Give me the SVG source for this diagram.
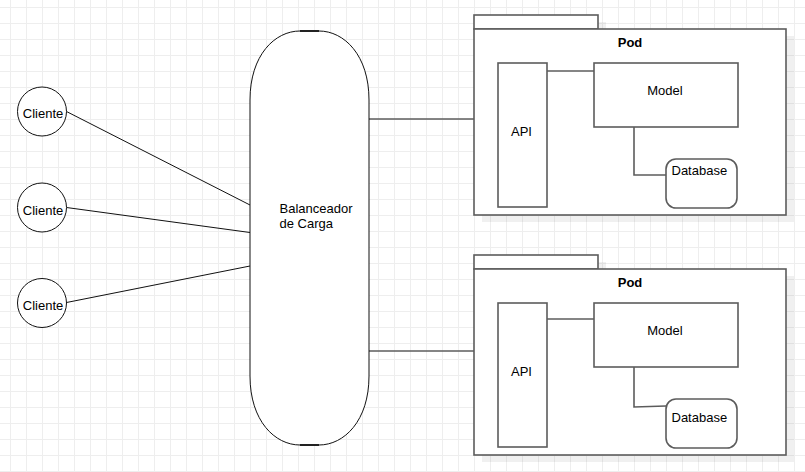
<svg xmlns="http://www.w3.org/2000/svg" width="805" height="472" viewBox="0 0 805 472">
<defs>
<pattern id="grid" x="0" y="0" width="16" height="16" patternUnits="userSpaceOnUse">
<path d="M10.5 0V16M0 7.5H16" stroke="#eeeeee" stroke-width="1" fill="none"/>
</pattern>
</defs>
<style>
text{font-family:"Liberation Sans",Arial,sans-serif;font-size:13px;fill:#000}
.box{fill:#fff;stroke:#5c5c5c;stroke-width:1.6}
.shadow{fill:#000;fill-opacity:0.06}
.conn{fill:none;stroke:#5c5c5c;stroke-width:1.6}
.cl{fill:none;stroke:#111;stroke-width:1}
.circ{fill:#fff;stroke:#111;stroke-width:1}
.mid{text-anchor:middle}
</style>
<rect width="805" height="472" fill="#fff"/>
<rect width="805" height="472" fill="url(#grid)"/>

<g id="connectors">
<line class="cl" x1="66.5" y1="111.5" x2="250" y2="205"/>
<line class="cl" x1="66.5" y1="207.5" x2="250" y2="232.5"/>
<line class="cl" x1="66.5" y1="302.5" x2="250" y2="266"/>
<line class="conn" x1="369" y1="119" x2="498" y2="119"/>
<line class="conn" x1="369" y1="351" x2="498" y2="351"/>
</g>

<g id="cliente1">
<circle class="circ" cx="42" cy="111.5" r="24.5"/>
<text class="mid" x="43" y="118">Cliente</text>
</g>
<g id="cliente2">
<circle class="circ" cx="42" cy="207.5" r="24.5"/>
<text class="mid" x="43" y="214.5">Cliente</text>
</g>
<g id="cliente3">
<circle class="circ" cx="42" cy="303" r="24.5"/>
<text class="mid" x="43" y="310">Cliente</text>
</g>

<g id="balanceador">
<path d="M250 100C250 55 275 31 300 31L319 31C344 31 369 55 369 100L369 376C369 421 344 445 319 445L300 445C275 445 250 421 250 376Z" fill="#fff" stroke="#111" stroke-width="1"/>
<path d="M300 31H319M300 445H319" stroke="#222" stroke-width="2.2"/>
<text x="279.5" y="213.2">Balanceador</text>
<text x="279.5" y="227.6">de Carga</text>
</g>

<g id="pod1">
<rect class="shadow" x="482" y="22" width="124" height="14"/>
<rect class="shadow" x="482" y="36" width="312" height="186"/>
<rect class="box" x="474" y="15" width="124" height="14"/>
<rect class="box" x="474" y="29" width="312" height="186"/>
<text class="mid" x="630" y="47" font-weight="bold">Pod</text>
<g id="api1">
<rect class="box" x="498" y="63" width="49" height="144"/>
<text class="mid" x="521.5" y="135.5">API</text>
</g>
<g id="model1">
<rect class="box" x="594" y="63" width="144" height="64"/>
<text class="mid" x="665" y="94.5">Model</text>
</g>
<g id="database1">
<rect class="box" x="666" y="159" width="71" height="49" rx="10" ry="10"/>
<text x="671.5" y="174.5">Database</text>
</g>
<g class="pod-connectors">
<polyline class="conn" points="547,71 594,71"/>
<polyline class="conn" points="634,127 634,175 666,175"/>
</g>
</g>

<g id="pod2">
<rect class="shadow" x="482" y="262" width="124" height="14"/>
<rect class="shadow" x="482" y="276" width="312" height="186"/>
<rect class="box" x="474" y="255" width="124" height="14"/>
<rect class="box" x="474" y="269" width="312" height="186"/>
<text class="mid" x="630" y="287" font-weight="bold">Pod</text>
<g id="api2">
<rect class="box" x="498" y="303" width="49" height="144"/>
<text class="mid" x="521.5" y="375.5">API</text>
</g>
<g id="model2">
<rect class="box" x="594" y="303" width="144" height="64"/>
<text class="mid" x="665" y="334.5">Model</text>
</g>
<g id="database2">
<rect class="box" x="666" y="399" width="71" height="49" rx="10" ry="10"/>
<text x="671.5" y="422">Database</text>
</g>
<g class="pod-connectors">
<polyline class="conn" points="547,319 594,319"/>
<polyline class="conn" points="634,367 634,407 666,406"/>
</g>
</g>
</svg>
